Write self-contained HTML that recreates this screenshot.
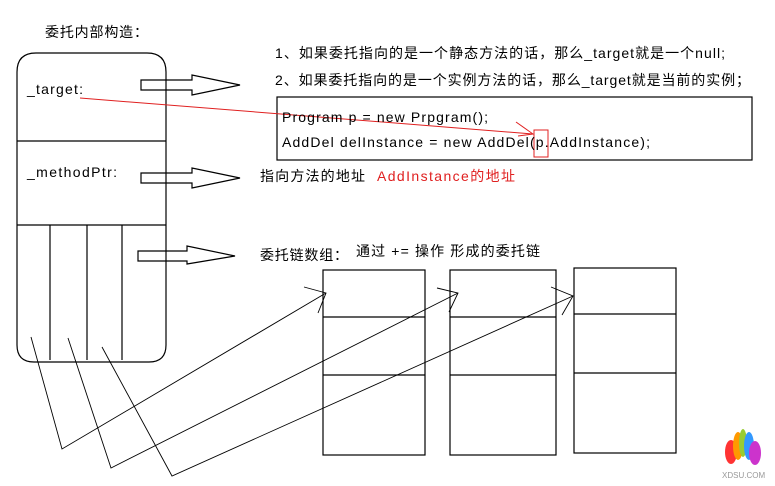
<!DOCTYPE html>
<html><head><meta charset="utf-8"><style>
body{margin:0;background:#fff;width:775px;height:486px;overflow:hidden}
svg{display:block}
text{font-family:"Liberation Sans","Noto Sans CJK SC",sans-serif;font-size:14px;fill:#000}
</style></head><body>
<svg width="775" height="486" xmlns="http://www.w3.org/2000/svg">
<g fill="none" stroke="#000" stroke-width="1.2">
<path d="M17,72 Q17,53 36,53 L147,53 Q166,53 166,72 L166,345 Q166,362 149,362 L34,362 Q17,362 17,345 Z"/>
<line x1="17" y1="141" x2="166" y2="141"/>
<line x1="17" y1="225" x2="166" y2="225"/>
<line x1="50" y1="225" x2="50" y2="360"/>
<line x1="87" y1="225" x2="87" y2="360"/>
<line x1="122" y1="225" x2="122" y2="360"/>
<path d="M141,80 L192,80 L192,75 L240,85 L192,95 L192,90 L141,90 Z"/>
<path d="M141,173 L192,173 L192,168 L240,178 L192,188 L192,183 L141,183 Z"/>
<path d="M138,251 L187,251 L187,246 L235,256 L187,264 L187,261 L138,261 Z"/>
<rect x="277" y="97" width="475" height="63"/>
<rect x="323" y="270" width="102" height="185"/>
<line x1="323" y1="317" x2="425" y2="317"/><line x1="323" y1="375" x2="425" y2="375"/>
<rect x="450" y="270" width="106" height="185"/>
<line x1="450" y1="317" x2="556" y2="317"/><line x1="450" y1="375" x2="556" y2="375"/>
<rect x="574" y="268" width="102" height="185"/>
<line x1="574" y1="314" x2="676" y2="314"/><line x1="574" y1="373" x2="676" y2="373"/>
</g>
<g fill="none" stroke="#000" stroke-width="0.9">
<polyline points="31,337 62,449 326,293"/>
<polyline points="304,287 326,293 318,313"/>
<polyline points="68,338 111,468 458,293"/>
<polyline points="437,288 458,293 449,312"/>
<polyline points="102,347 172,476 573,296"/>
<polyline points="551,287 573,296 562,315"/>
</g>
<g stroke="#e02020" fill="none" stroke-width="1">
<line x1="80" y1="98" x2="533" y2="134"/>
<polyline points="516,122 533,134 518,136"/>
<rect x="534" y="130" width="14" height="27"/>
</g>
<text x="45" y="37" textLength="103">委托内部构造：</text>
<text x="27" y="94" font-size="15" textLength="56">_target:</text>
<text x="27" y="177" font-size="15" textLength="90">_methodPtr:</text>
<text x="275" y="58" textLength="450">1、如果委托指向的是一个静态方法的话，那么_target就是一个null;</text>
<text x="275" y="85" textLength="475">2、如果委托指向的是一个实例方法的话，那么_target就是当前的实例；</text>
<text x="282" y="122" font-size="15" textLength="206">Program p = new Prpgram();</text>
<text x="282" y="147" font-size="15" textLength="368">AddDel delInstance = new AddDel(p.AddInstance);</text>
<text x="260" y="181" textLength="105">指向方法的地址</text>
<text x="377" y="181" style="fill:#e02020" textLength="138">AddInstance的地址</text>
<text x="260" y="260" textLength="88">委托链数组：</text>
<text x="356" y="256" textLength="184">通过 += 操作 形成的委托链</text>
<g>
<ellipse cx="731" cy="452" rx="6" ry="12" fill="#f33"/>
<ellipse cx="738" cy="446" rx="5" ry="14" fill="#f90"/>
<ellipse cx="743" cy="443" rx="4" ry="14" fill="#9c3"/>
<ellipse cx="749" cy="446" rx="5" ry="14" fill="#39f"/>
<ellipse cx="755" cy="453" rx="6" ry="12" fill="#c3c"/>
<text x="722" y="478" style="font-size:8px;fill:#999">XDSU.COM</text>
</g>
</svg>
</body></html>
